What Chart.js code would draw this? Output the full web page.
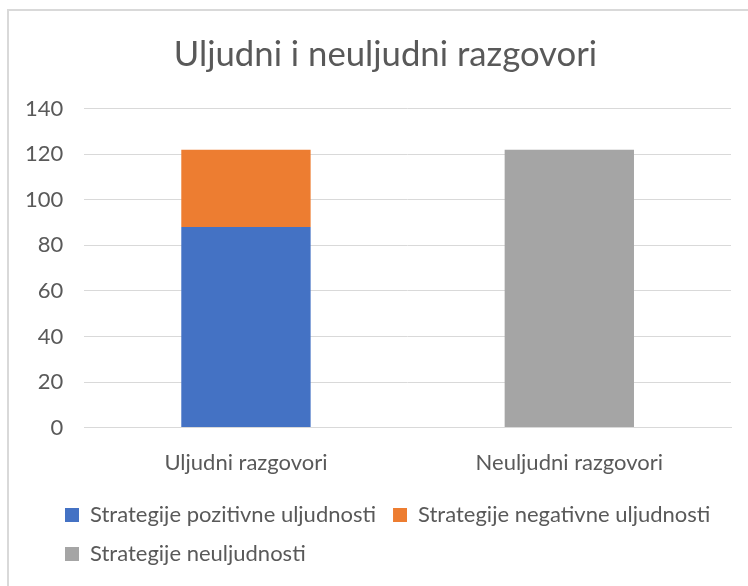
<!DOCTYPE html>
<html>
<head>
<meta charset="utf-8">
<script src="https://cdn.jsdelivr.net/npm/chart.js@4/dist/chart.umd.min.js"></script>
<style>
  html, body { margin: 0; padding: 0; background: #fff; }
  #wrap { position: relative; width: 748px; height: 586px; }
  #frame {
    position: absolute; left: 7px; top: 9px; right: 0; bottom: 0;
    border-left: 2px solid #d9d9d9; border-top: 2px solid #d9d9d9;
  }
  canvas { position: absolute; left: 0; top: 0; }
</style>
</head>
<body>
<div id="wrap">
  <div id="frame"></div>
  <canvas id="myCanvas" width="748" height="586"></canvas>
</div>
<script>
  const categories = ["Uljudni razgovori", "Neuljudni razgovori"];
  const pozitivne = [88, null];
  const negativne = [34, null];
  const neuljudnosti = [null, 122];
  const yTicks = [0, 20, 40, 60, 80, 100, 120, 140];

  const textColor = "#595959";
  const fontFamily = "Lato, 'Open Sans', sans-serif";

  // Excel left-aligns legend rows at an indent and centres the title on the whole frame
  const boxShift = {
    id: "boxShift",
    afterLayout(chart) {
      const lg = chart.legend;
      lg.left += 44;
      lg.right = 748;
      lg.top -= 11;
      lg.bottom -= 11;
      const tb = chart.titleBlock;
      tb.left += 18;
      tb.right += 18;
    },
  };

  const line = document.getElementById("myCanvas");
  new Chart(line, {
    type: "bar",
    data: {
      labels: categories,
      datasets: [
        {
          label: "Strategije pozitivne uljudnosti",
          data: pozitivne,
          backgroundColor: "#4472C4",
        },
        {
          label: "Strategije negativne uljudnosti",
          data: negativne,
          backgroundColor: "#ED7D31",
        },
        {
          label: "Strategije neuljudnosti",
          data: neuljudnosti,
          backgroundColor: "#A5A5A5",
        },
      ],
    },
    plugins: [boxShift],
    options: {
      responsive: false,
      animation: false,
      layout: {
        padding: { left: 4, right: 17, top: 34, bottom: 0 },
      },
      datasets: {
        bar: {
          barPercentage: 0.4,
          categoryPercentage: 1,
          skipNull: true,
        },
      },
      plugins: {
        title: {
          display: true,
          text: "Uljudni i neuljudni razgovori",
          color: textColor,
          font: { family: fontFamily, size: 34.7, weight: "normal" },
          padding: { top: 0, bottom: 33 },
        },
        legend: {
          position: "bottom",
          align: "start",
          labels: {
            color: textColor,
            font: { family: fontFamily, size: 22 },
            boxWidth: 14,
            boxHeight: 14,
            padding: 17,
          },
        },
        tooltip: { enabled: false },
      },
      scales: {
        x: {
          stacked: true,
          grid: { display: false, drawTicks: false },
          border: { color: "#d9d9d9", width: 1 },
          ticks: {
            color: textColor,
            font: { family: fontFamily, size: 22 },
            padding: 22,
          },
        },
        y: {
          stacked: true,
          min: 0,
          max: 140,
          afterBuildTicks(axis) {
            axis.ticks = yTicks.map((v) => ({ value: v }));
          },
          grid: { color: "#d9d9d9", drawTicks: false },
          border: { display: false },
          ticks: {
            color: textColor,
            font: { family: fontFamily, size: 22 },
            padding: 21,
          },
        },
      },
    },
  });
</script>
</body>
</html>
